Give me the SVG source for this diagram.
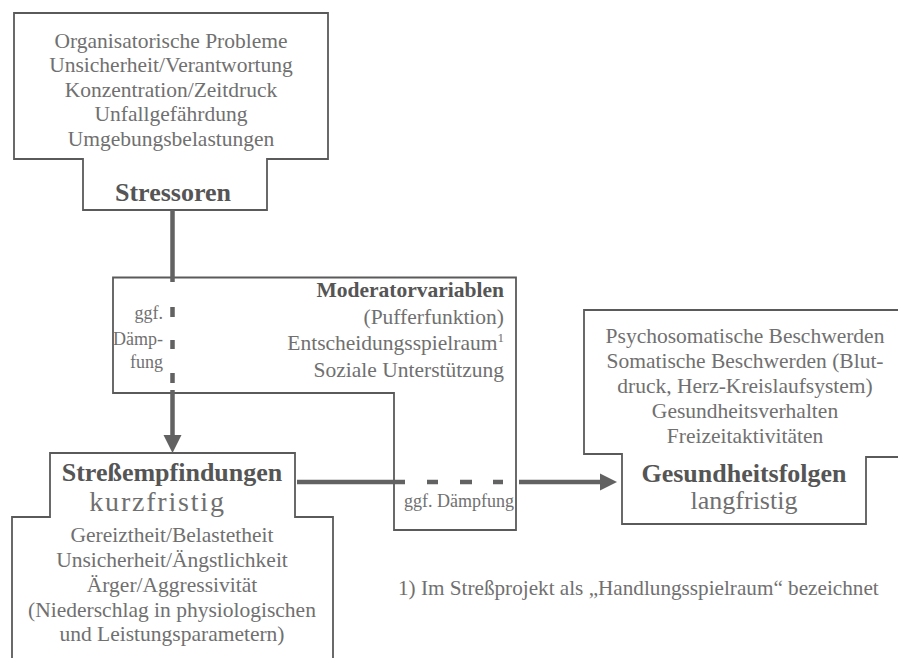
<svg xmlns="http://www.w3.org/2000/svg" width="898" height="658" viewBox="0 0 898 658">
<style>
.box{fill:#fff;stroke:#5a5a5a;stroke-width:1.8}
.t{font-family:"Liberation Serif","Times New Roman",serif;font-size:21.5px;fill:#707070}
.c{text-anchor:middle}
.e{text-anchor:end}
.b{font-weight:bold;fill:#555;font-size:26px}
.s{font-size:18px}
.ar{stroke:#626262;stroke-width:4.5;fill:none}
.ah{fill:#626262}
</style>
<rect width="898" height="658" fill="#fff"/>
<g id="stressoren">
<polygon class="box" points="14,13 328,13 328,159 267,159 267,210 83,210 83,159 14,159"/>
<text class="t c" x="171" y="47.5">Organisatorische Probleme</text>
<text class="t c" x="171" y="72">Unsicherheit/Verantwortung</text>
<text class="t c" x="171" y="96.5">Konzentration/Zeitdruck</text>
<text class="t c" x="171" y="121">Unfallgefährdung</text>
<text class="t c" x="171" y="146">Umgebungsbelastungen</text>
<text class="t c b" x="173" y="201">Stressoren</text>
</g>
<g id="moderator">
<polygon class="box" points="113,277.5 516,277.5 516,530 394,530 394,393 113,393"/>
<text class="t e b" style="font-size:21.5px" x="504" y="297">Moderatorvariablen</text>
<text class="t e" x="504" y="323.5">(Pufferfunktion)</text>
<text class="t e" x="504" y="350">Entscheidungsspielraum<tspan font-size="13" dy="-8">1</tspan></text>
<text class="t e" x="504" y="377">Soziale Unterstützung</text>
<text class="t e s" x="163" y="319">ggf.</text>
<text class="t e s" x="163" y="345">Dämp-</text>
<text class="t e s" x="163" y="368">fung</text>
<text class="t s" x="404" y="507">ggf. Dämpfung</text>
</g>
<g id="stressempfindungen">
<path class="box" d="M12,662 V517 H50 V453 H295 V517 H333 V662"/>
<text class="t c b" x="172" y="480.5">Streßempfindungen</text>
<text class="t c" style="font-size:28px;letter-spacing:1.8px" x="157.5" y="511">kurzfristig</text>
<text class="t c" x="172" y="542">Gereiztheit/Belastetheit</text>
<text class="t c" x="172" y="567">Unsicherheit/Ängstlichkeit</text>
<text class="t c" x="172" y="592">Ärger/Aggressivität</text>
<text class="t c" x="172" y="617">(Niederschlag in physiologischen</text>
<text class="t c" x="172" y="641">und Leistungsparametern)</text>
</g>
<g id="gesundheitsfolgen">
<path class="box" d="M900,310 H584 V454 H622 V524 H866 V457 H900"/>
<text class="t c" x="745" y="343">Psychosomatische Beschwerden</text>
<text class="t c" x="745" y="368">Somatische Beschwerden (Blut-</text>
<text class="t c" x="745" y="393">druck, Herz-Kreislaufsystem)</text>
<text class="t c" x="745" y="418">Gesundheitsverhalten</text>
<text class="t c" x="745" y="443">Freizeitaktivitäten</text>
<text class="t c b" x="744" y="481.5">Gesundheitsfolgen</text>
<text class="t c" style="font-size:26px" x="744" y="509">langfristig</text>
</g>
<g id="footnote">
<text class="t" style="font-size:21.2px" x="398" y="595">1) Im Streßprojekt als „Handlungsspielraum“ bezeichnet</text>
</g>
<g id="connectors">
<path class="ar" d="M172.5,210 V282"/>
<path class="ar" d="M172.5,307 V317 M172.5,340 V349 M172.5,373 V383"/>
<path class="ar" d="M172.5,390 V437"/>
<polygon class="ah" points="163.5,435 181.5,435 172.5,453"/>
<path class="ar" d="M297,482 H405"/>
<path class="ar" d="M427,482 H438 M460,482 H472 M493,482 H503"/>
<path class="ar" d="M519,482 H602"/>
<polygon class="ah" points="600,473.5 600,490.5 617,482"/>
</g>
</svg>
